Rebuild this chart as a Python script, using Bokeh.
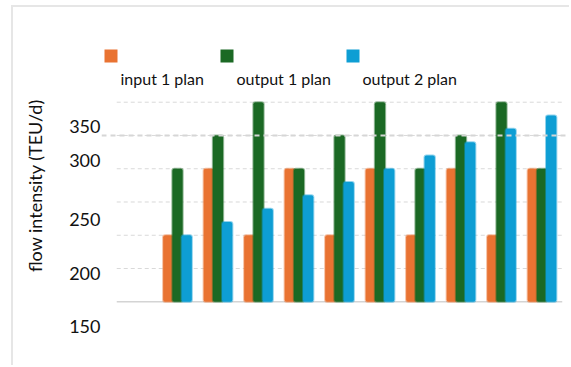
from bokeh.plotting import figure
from bokeh.models import (Range1d, FixedTicker, Span, Label, BoxAnnotation,
                          ColumnDataSource)
from bokeh.embed import file_html
from bokeh.resources import INLINE

# ---- data -------------------------------------------------------------
groups = list(range(10))
input_1_plan = [250, 300, 250, 300, 250, 300, 250, 300, 250, 300]
output_1_plan = [300, 325, 350, 300, 325, 350, 300, 325, 350, 300]
output_2_plan = [250, 260, 270, 280, 290, 300, 310, 320, 330, 340]

series_names = ["input 1 plan", "output 1 plan", "output 2 plan"]
series_colors = ["#E97332", "#1B6924", "#0E9ED4"]

base_level = 200
grid_levels = [225, 250, 275, 300, 325, 350]
reference_level = 325
tick_labels = ["150", "200", "250", "300", "350"]
tick_positions = [181.7, 221.6, 261.6, 306.2, 331.7]

FONT = "Lato"

# ---- figure -----------------------------------------------------------
p = figure(width=558, height=360, output_backend="svg", toolbar_location=None,
           x_axis_location=None,
           x_range=Range1d(-1.8765, 9.605), y_range=Range1d(170.9, 403.9),
           min_border_left=88, min_border_right=5,
           min_border_top=23, min_border_bottom=27)
p.margin = (5, 0, 0, 11)
p.styles = {"border-left": "2px solid #e6e6e6",
            "border-top": "2px solid #e6e6e6"}
p.outline_line_color = None
p.xgrid.grid_line_color = None
p.ygrid.grid_line_color = None
p.background_fill_color = "white"
p.border_fill_color = "white"

# dashed horizontal guides spanning the category slots
x_left = -1.5
x_right = len(groups) - 0.5
p.segment(x0=[x_left] * len(grid_levels), x1=[x_right] * len(grid_levels),
          y0=grid_levels, y1=grid_levels, line_color="#d9d9d9",
          line_width=1, line_dash="4 3")
p.segment(x0=[x_left], x1=[x_right], y0=[base_level], y1=[base_level],
          line_color="#d4d4d4", line_width=1.5)

# grouped bars
offset = 0.227
bar_w = 0.255
src = ColumnDataSource(dict(
    g=groups, inp=input_1_plan, out1=output_1_plan, out2=output_2_plan,
    x_in=[g - offset for g in groups], x_o1=groups,
    x_o2=[g + offset for g in groups]))

for xcol, ycol, color in zip(["x_in", "x_o1", "x_o2"], ["inp", "out1", "out2"],
                             series_colors):
    p.vbar(x=xcol, top=ycol, bottom=base_level, width=bar_w, source=src,
           fill_color=color, line_color=color, line_alpha=0.45,
           line_width=2, border_radius=2)

# reference line drawn over the bars
p.add_layout(Span(location=reference_level, dimension="width",
                  line_color="#d6d6d6", line_width=2, line_dash="5 4",
                  level="overlay"))

# y axis
ax = p.yaxis[0]
ax.ticker = FixedTicker(ticks=tick_positions)
ax.major_label_overrides = {t: s for t, s in zip(tick_positions, tick_labels)}
ax.axis_line_color = None
ax.major_tick_line_color = None
ax.minor_tick_line_color = None
ax.major_tick_out = 0
ax.major_label_standoff = 1
ax.major_label_text_font = FONT
ax.major_label_text_font_size = "18px"
ax.major_label_text_color = "#111111"
ax.axis_label = "flow intensity (TEU/d)"
ax.axis_label_text_font = FONT
ax.axis_label_text_font_size = "18px"
ax.axis_label_text_font_style = "normal"
ax.axis_label_text_color = "#111111"
ax.axis_label_standoff = 20

# legend: a swatch per series with its caption set lower, to the right
swatch_left = [3, 119, 245]     # px from the plot-area's left edge
swatch_size = 13
swatch_bottom = 278             # px from the plot-area's bottom edge
caption_gap = 3
caption_mid = 262               # px from the plot-area's bottom edge
for name, color, sx in zip(series_names, series_colors, swatch_left):
    p.add_layout(BoxAnnotation(left=sx, right=sx + swatch_size,
                               bottom=swatch_bottom,
                               top=swatch_bottom + swatch_size,
                               left_units="screen", right_units="screen",
                               top_units="screen", bottom_units="screen",
                               fill_color=color, fill_alpha=1,
                               line_color=None))
    p.add_layout(Label(x=sx + swatch_size + caption_gap, y=caption_mid,
                       x_units="screen", y_units="screen", text=name,
                       text_font=FONT, text_font_size="16px",
                       text_color="#111111", text_baseline="middle",
                       text_align="left"))

open("out.html", "w").write(file_html(p, INLINE))
